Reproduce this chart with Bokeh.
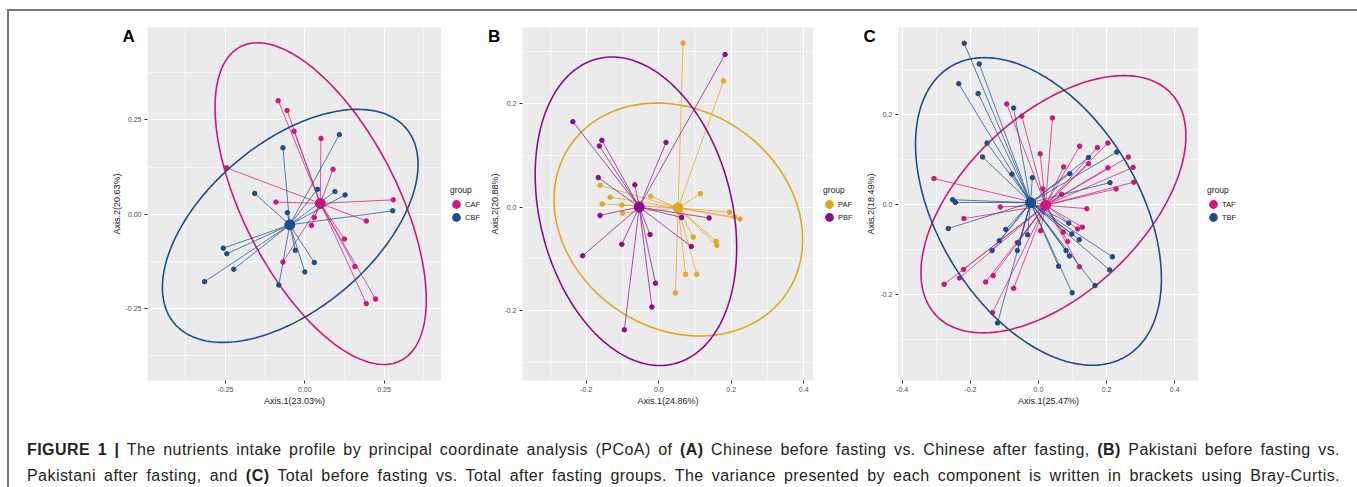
import numpy as np
from bokeh.plotting import figure
from bokeh.models import Range1d, FixedTicker, Legend, LegendItem, Label, Div, PrintfTickFormatter
from bokeh.layouts import row, column
from bokeh.embed import file_html
from bokeh.resources import INLINE

# ---------------- data ----------------
# Panel A : Chinese after (CAF) / before (CBF) fasting
a_caf_x = [-0.084, -0.056, -0.034, 0.051, 0.089, -0.247, -0.091, 0.279, 0.194, 0.030, 0.021, 0.125, -0.069, 0.158, 0.223, 0.194]
a_caf_y = [0.301, 0.275, 0.220, 0.201, 0.119, 0.123, 0.032, 0.038, -0.018, -0.009, -0.030, -0.066, -0.127, -0.139, -0.225, -0.237]
a_cbf_x = [0.109, -0.069, -0.158, 0.040, 0.095, 0.127, -0.055, 0.277, -0.257, -0.246, -0.224, -0.316, -0.030, 0.030, 0.000, -0.082]
a_cbf_y = [0.211, 0.176, 0.055, 0.066, 0.060, 0.051, 0.004, 0.009, -0.090, -0.105, -0.146, -0.179, -0.096, -0.128, -0.153, -0.188]

# Panel B : Pakistani after (PAF) / before (PBF) fasting
b_paf_x = [0.067, 0.179, 0.115, -0.162, -0.134, -0.022, -0.156, -0.102, -0.100, 0.195, 0.209, 0.224, 0.063, 0.095, 0.158, 0.160, 0.074, 0.105, 0.046]
b_paf_y = [0.317, 0.244, 0.026, 0.042, 0.019, 0.021, 0.006, 0.004, -0.012, -0.010, -0.019, -0.023, -0.019, -0.058, -0.066, -0.074, -0.130, -0.130, -0.166]
b_pbf_x = [0.183, -0.237, -0.157, -0.164, 0.020, -0.167, -0.066, -0.162, 0.139, 0.063, -0.024, -0.102, 0.090, -0.210, -0.009, -0.019, -0.095]
b_pbf_y = [0.295, 0.165, 0.129, 0.118, 0.125, 0.057, 0.043, -0.016, -0.021, -0.020, -0.053, -0.072, -0.076, -0.094, -0.147, -0.193, -0.237]

# Panel C : Total after (TAF) / before (TBF) fasting
c_taf_x = [-0.093, -0.049, 0.041, 0.005, 0.074, 0.121, 0.173, 0.204, 0.147, 0.204, 0.264, 0.278, 0.280, 0.228, 0.068, 0.013, -0.307,
           -0.112, -0.219, 0.142, 0.129, 0.115, 0.073, 0.086, 0.006, 0.120, -0.220, -0.232, -0.277, -0.155, -0.133, -0.073, -0.135, -0.062]
c_taf_y = [0.223, 0.196, 0.192, 0.112, 0.083, 0.129, 0.126, 0.136, 0.090, 0.081, 0.105, 0.082, 0.049, 0.034, 0.022, 0.034, 0.057,
           -0.006, -0.032, -0.010, -0.051, -0.055, -0.062, -0.083, -0.059, -0.139, -0.145, -0.164, -0.178, -0.173, -0.159, -0.187, -0.241, -0.085]
c_tbf_x = [-0.218, -0.174, -0.234, -0.177, -0.073, -0.151, -0.164, -0.078, -0.018, -0.252, -0.244, -0.265, 0.147, 0.230, 0.092, 0.210,
           -0.096, -0.115, -0.032, -0.058, -0.136, -0.062, 0.089, 0.098, 0.120, 0.081, 0.091, 0.059, 0.217, 0.209, 0.166, 0.099, -0.120]
c_tbf_y = [0.358, 0.312, 0.268, 0.246, 0.214, 0.136, 0.105, 0.067, 0.059, 0.010, 0.004, -0.054, 0.104, 0.116, 0.068, 0.048,
           -0.056, -0.081, -0.068, -0.087, -0.103, -0.103, -0.042, -0.066, -0.079, -0.103, -0.115, -0.138, -0.117, -0.146, -0.181, -0.197, -0.264]

# 95% ellipses: centre x, centre y, half-extent x, half-extent y, correlation
a_ell_caf = [0.050, 0.028, 0.333, 0.4265, -0.598]
a_ell_cbf = [-0.046, -0.031, 0.403, 0.309, 0.528]
b_ell_paf = [0.054, -0.024, 0.343, 0.225, -0.172]
b_ell_pbf = [-0.063, -0.008, 0.278, 0.298, -0.237]
c_ell_taf = [0.044, 0.000, 0.389, 0.286, 0.532]
c_ell_tbf = [0.000, -0.016, 0.361, 0.342, -0.437]

# axis labels / ticks
a_xlabel, a_ylabel = "Axis.1(23.03%)", "Axis.2(20.63%)"
b_xlabel, b_ylabel = "Axis.1(24.86%)", "Axis.2(20.88%)"
c_xlabel, c_ylabel = "Axis.1(25.47%)", "Axis.2(18.49%)"
a_xticks, a_yticks = [-0.25, 0.0, 0.25], [-0.25, 0.0, 0.25]
b_xticks, b_yticks = [-0.2, 0.0, 0.2, 0.4], [-0.2, 0.0, 0.2]
c_xticks, c_yticks = [-0.4, -0.2, 0.0, 0.2, 0.4], [-0.2, 0.0, 0.2]

PINK, BLUE, ORANGE, PURPLE = "#D0167A", "#1A4E8C", "#E4A521", "#8C0C8C"
FONT = "Liberation Sans"
FH = 353
TOP, BOTTOM = 19, 30


def ellipse_xy(params):
    cx, cy, hx, hy, rho = params
    t = np.linspace(0, 2 * np.pi, 240)
    xs = cx + hx * np.cos(t)
    ys = cy + hy * (rho * np.cos(t) + np.sqrt(1 - rho ** 2) * np.sin(t))
    return xs, ys


def minor_of(ticks):
    step = ticks[1] - ticks[0]
    return [t + step / 2 for t in [ticks[0] - step] + list(ticks)]


def panel(letter, letter_dx, xr, yr, xticks, yticks, fmt, xlabel, ylabel, groups, ml, fw):
    p = figure(width=ml + fw, height=TOP + FH + BOTTOM,
               x_range=Range1d(*xr), y_range=Range1d(*yr),
               output_backend="svg", toolbar_location=None,
               min_border_left=ml, min_border_right=0, min_border_top=TOP, min_border_bottom=BOTTOM,
               background_fill_color="#EBEBEB", border_fill_color="white", border_fill_alpha=0,
               outline_line_color=None)
    xt = FixedTicker(ticks=xticks, minor_ticks=minor_of(xticks))
    yt = FixedTicker(ticks=yticks, minor_ticks=minor_of(yticks))
    p.xaxis.ticker = xt
    p.yaxis.ticker = yt
    p.xgrid.ticker = xt
    p.ygrid.ticker = yt
    for g in (p.xgrid, p.ygrid):
        g.grid_line_color = "white"
        g.grid_line_width = 1.1
        g.minor_grid_line_color = "white"
        g.minor_grid_line_width = 0.55
    for ax in (p.xaxis, p.yaxis):
        ax.formatter = PrintfTickFormatter(format=fmt)
        ax.axis_line_color = None
        ax.major_tick_line_color = "#333333"
        ax.major_tick_out = 3
        ax.major_tick_in = 0
        ax.minor_tick_line_color = None
        ax.major_label_text_font = FONT
        ax.major_label_text_font_size = "7px"
        ax.major_label_text_color = "#4D4D4D"
        ax.major_label_standoff = 2
        ax.axis_label_text_font = FONT
        ax.axis_label_text_font_size = "9px"
        ax.axis_label_text_font_style = "normal"
        ax.axis_label_text_color = "#1A1A1A"
        ax.axis_label_standoff = 1
    p.xaxis.axis_label = xlabel
    p.yaxis.axis_label = ylabel

    for name, color, xs, ys, ell in groups:
        cx, cy = float(np.mean(xs)), float(np.mean(ys))
        p.segment(x0=cx, y0=cy, x1=xs, y1=ys, line_color=color, line_width=0.8, line_alpha=0.9)
        p.scatter(xs, ys, size=4.5, marker="circle", fill_color=color, line_color=color)
        p.scatter([cx], [cy], size=10, marker="circle", fill_color=color, line_color=color)
        ex, ey = ellipse_xy(ell)
        p.line(ex, ey, line_color=color, line_width=1.6)

    # panel letter, at a pixel offset from the top-left corner of the plot frame
    # (kept in a side panel so that it is not clipped to the frame)
    lx = xr[0] + letter_dx / fw * (xr[1] - xr[0])
    ly = yr[1] - 9.0 / FH * (yr[1] - yr[0])
    p.add_layout(Label(x=lx, y=ly, text=letter, text_line_height=0.6,
                       text_font=FONT, text_font_size="17px", text_font_style="bold",
                       text_color="black", text_baseline="alphabetic"), "above")
    return p


def legend_fig(width, groups, margin):
    q = figure(width=width, height=TOP + FH + BOTTOM, x_range=Range1d(0, 1), y_range=Range1d(0, 1),
               output_backend="svg", toolbar_location=None,
               x_axis_location=None, y_axis_location=None,
               min_border_left=0, min_border_right=0, min_border_top=0, min_border_bottom=11,
               background_fill_color="white", background_fill_alpha=0,
               border_fill_color="white", border_fill_alpha=0, outline_line_color=None)
    for g in q.grid:
        g.visible = False
    items = []
    for name, color, *_ in groups:
        # proxy glyph for the legend key, kept outside the visible range
        r = q.scatter(x=[-5], y=[-5], size=5, marker="circle", fill_color=color,
                      line_color=color, line_width=4)
        items.append(LegendItem(label=name, renderers=[r]))
    leg = Legend(items=items, title="group", location="center_left",
                 title_text_font=FONT, title_text_font_size="8.5px", title_text_font_style="normal",
                 title_text_color="#1A1A1A", title_standoff=3,
                 label_text_font=FONT, label_text_font_size="7.5px", label_text_color="#1A1A1A",
                 glyph_width=12, glyph_height=13, label_height=13, label_width=10,
                 label_standoff=3, spacing=0, padding=4, margin=margin,
                 border_line_color=None, background_fill_alpha=0)
    q.add_layout(leg)
    return q


grpA = [("CAF", PINK, a_caf_x, a_caf_y, a_ell_caf), ("CBF", BLUE, a_cbf_x, a_cbf_y, a_ell_cbf)]
grpB = [("PAF", ORANGE, b_paf_x, b_paf_y, b_ell_paf), ("PBF", PURPLE, b_pbf_x, b_pbf_y, b_ell_pbf)]
grpC = [("TAF", PINK, c_taf_x, c_taf_y, c_ell_taf), ("TBF", BLUE, c_tbf_x, c_tbf_y, c_ell_tbf)]

pA = panel("A", -25, (-0.496, 0.431), (-0.441, 0.495), a_xticks, a_yticks, "%.2f",
           a_xlabel, a_ylabel, grpA, 138, 294)
lA = legend_fig(46, grpA, 9)
pB = panel("B", -35, (-0.376, 0.427), (-0.335, 0.347), b_xticks, b_yticks, "%.1f",
           b_xlabel, b_ylabel, grpB, 30, 296)
lB = legend_fig(50, grpB, 10)
pC = panel("C", -35, (-0.411, 0.470), (-0.392, 0.393), c_xticks, c_yticks, "%.1f",
           c_xlabel, c_ylabel, grpC, 34, 301)
lC = legend_fig(156, grpC, 9)

line_style = ("text-align:justify;text-align-last:justify;white-space:nowrap;letter-spacing:0.45px;"
              "width:1313px;margin-left:13px;height:26px;line-height:26px;")
caption = (
    "<div style=\"font-family:'Liberation Sans',Arial,sans-serif;font-size:16px;color:#231F20;padding-top:22px;\">"
    f"<div style=\"{line_style}\"><b>FIGURE 1 |</b> The nutrients intake profile by principal coordinate analysis (PCoA) of "
    "<b>(A)</b> Chinese before fasting vs. Chinese after fasting, <b>(B)</b> Pakistani before fasting vs.</div>"
    f"<div style=\"{line_style}\">Pakistani after fasting, and <b>(C)</b> Total before fasting vs. Total after fasting groups. "
    "The variance presented by each component is written in brackets using Bray-Curtis.</div>"
    "</div>"
)
cap = Div(text=caption, width=1345, height=74)

panels = row(pA, lA, pB, lB, pC, lC, styles={"margin-top": "-3px"})
layout = column(panels, cap,
                styles={"margin-left": "7px", "margin-top": "9px",
                        "border-top": "2px solid #777777", "border-left": "2px solid #777777",
                        "border-right": "2px solid #777777"})

open("out.html", "w").write(file_html(layout, INLINE))
